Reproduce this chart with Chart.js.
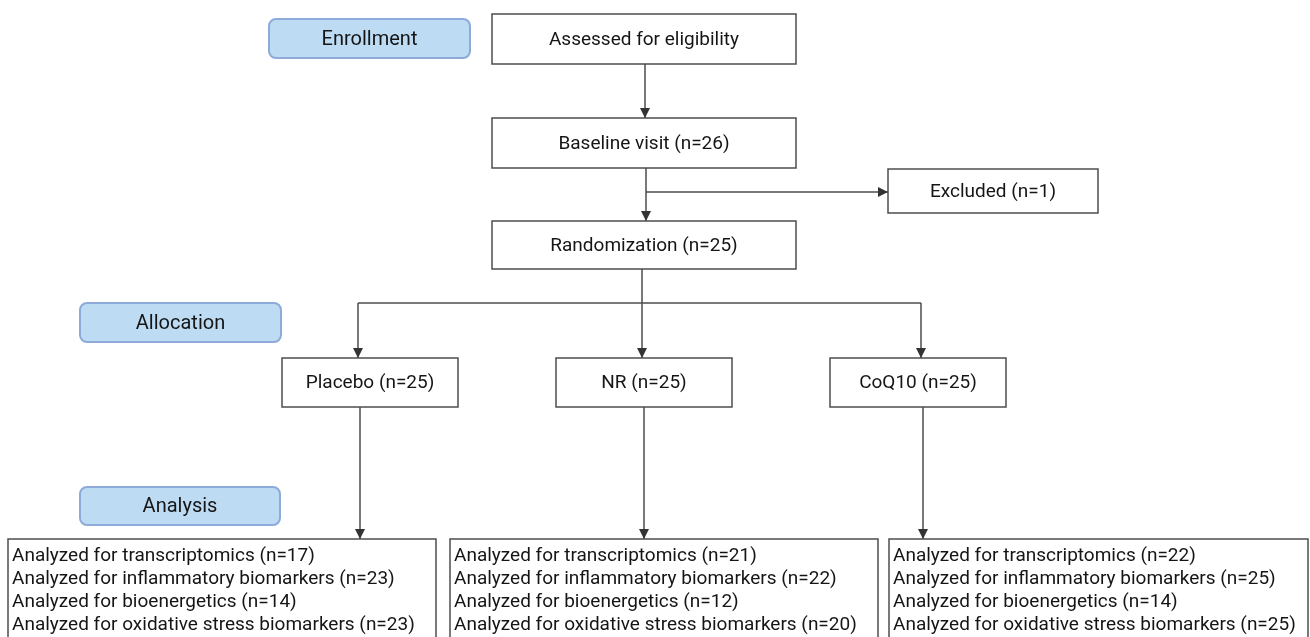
<!DOCTYPE html>
<html lang="en">
<head>
    <meta charset="UTF-8">
    <title>Study flow diagram</title>
    <script src="https://cdn.jsdelivr.net/npm/chart.js"></script>
    <style>
        html, body { margin: 0; padding: 0; background: #fff; }
        .chart-container { position: relative; width: 1310px; height: 637px; }
    </style>
</head>
<body>
    <div class="chart-container">
        <canvas id="flowChart"></canvas>
    </div>

    <script>
        // values
        const stageLabels = ['Enrollment', 'Allocation', 'Analysis'];
        const groups = ['Placebo', 'NR', 'CoQ10'];
        const allocatedN = [25, 25, 25];
        const baselineN = 26;
        const excludedN = 1;
        const randomizedN = 25;
        const analysisTypes = ['transcriptomics', 'inflammatory biomarkers', 'bioenergetics', 'oxidative stress biomarkers'];
        const transcriptomicsN = [17, 21, 22];
        const inflammatoryN = [23, 22, 25];
        const bioenergeticsN = [14, 12, 14];
        const oxidativeN = [23, 20, 25];

        // layout, in axis units (x: 0..1310, y: 0..637 top-down)
        const stageBoxes = [[269, 19, 470, 58], [80, 303, 281, 342], [80, 487, 280, 525]];
        const topBoxes = [
            { r: [492, 14, 796, 64], text: 'Assessed for eligibility' },
            { r: [492, 118, 796, 168], text: 'Baseline visit (n=' + baselineN + ')' },
            { r: [888, 169, 1098, 213], text: 'Excluded (n=' + excludedN + ')' },
            { r: [492, 221, 796, 269], text: 'Randomization (n=' + randomizedN + ')' }
        ];
        const groupBoxes = [[282, 358, 458, 407], [556, 358, 732, 407], [830, 358, 1006, 407]];
        const groupX = [358, 642, 921];
        const analysisBoxes = [[8, 539, 436, 645], [450, 539, 878, 645], [889, 539, 1308, 645]];

        const counts = [transcriptomicsN, inflammatoryN, bioenergeticsN, oxidativeN];

        // connectors: each is a polyline; arrow head at the last point when arrow is true
        const connectors = [
            { pts: [[645, 64], [645, 118]], arrow: true },
            { pts: [[646, 168], [646, 221]], arrow: true },
            { pts: [[646, 192], [888, 192]], arrow: true },
            { pts: [[642, 269], [642, 303]], arrow: false },
            { pts: [[358, 303], [921, 303]], arrow: false }
        ];
        groups.forEach((g, i) => {
            connectors.push({ pts: [[groupX[i], 303], [groupX[i], 358]], arrow: true });
            connectors.push({ pts: [[groupX[i] + 2, 407], [groupX[i] + 2, 539]], arrow: true });
        });

        const lineColor = '#4d4d4d';
        const fontFamily = 'Roboto, "Noto Sans", sans-serif';

        const flowPlugin = {
            id: 'flow',
            afterDatasetsDraw(chart) {
                const ctx = chart.ctx;
                const xs = chart.scales.x, ys = chart.scales.y;
                const px = v => xs.getPixelForValue(v);
                const py = v => ys.getPixelForValue(v);

                ctx.save();
                // arrow heads
                ctx.fillStyle = '#333';
                connectors.forEach(c => {
                    if (!c.arrow) return;
                    const a = c.pts[c.pts.length - 2], b = c.pts[c.pts.length - 1];
                    const x1 = px(a[0]), y1 = py(a[1]), x2 = px(b[0]), y2 = py(b[1]);
                    const ang = Math.atan2(y2 - y1, x2 - x1);
                    ctx.save();
                    ctx.translate(x2, y2);
                    ctx.rotate(ang);
                    ctx.beginPath();
                    ctx.moveTo(0, 0);
                    ctx.lineTo(-10, -5);
                    ctx.lineTo(-10, 5);
                    ctx.closePath();
                    ctx.fill();
                    ctx.restore();
                });

                const plainBox = (r, text) => {
                    const x = px(r[0]), y = py(r[1]), w = px(r[2]) - x, h = py(r[3]) - y;
                    ctx.fillStyle = '#fff';
                    ctx.fillRect(x, y, w, h);
                    ctx.strokeStyle = lineColor;
                    ctx.lineWidth = 1.5;
                    ctx.strokeRect(x, y, w, h);
                    if (text) {
                        ctx.fillStyle = '#151515';
                        ctx.font = '19px ' + fontFamily;
                        ctx.textAlign = 'center';
                        ctx.textBaseline = 'middle';
                        ctx.fillText(text, x + w / 2, y + h / 2 + 1);
                    }
                };

                // stage labels
                stageBoxes.forEach((r, i) => {
                    const x = px(r[0]), y = py(r[1]), w = px(r[2]) - x, h = py(r[3]) - y;
                    ctx.beginPath();
                    ctx.roundRect(x, y, w, h, 7);
                    ctx.fillStyle = '#bddcf3';
                    ctx.fill();
                    ctx.strokeStyle = '#8eaad9';
                    ctx.lineWidth = 2;
                    ctx.stroke();
                    ctx.fillStyle = '#151515';
                    ctx.font = '20px ' + fontFamily;
                    ctx.textAlign = 'center';
                    ctx.textBaseline = 'middle';
                    ctx.fillText(stageLabels[i], x + w / 2, y + h / 2 + 1);
                });

                topBoxes.forEach(b => plainBox(b.r, b.text));
                groupBoxes.forEach((r, i) => plainBox(r, groups[i] + ' (n=' + allocatedN[i] + ')'));

                analysisBoxes.forEach((r, i) => {
                    plainBox(r, null);
                    ctx.fillStyle = '#151515';
                    ctx.font = '19px ' + fontFamily;
                    ctx.textAlign = 'left';
                    ctx.textBaseline = 'middle';
                    analysisTypes.forEach((t, k) => {
                        const ty = py(r[1]) + 17 + k * 23;
                        ctx.fillText('Analyzed for ' + t + ' (n=' + counts[k][i] + ')', px(r[0]) + 4, ty);
                    });
                });
                ctx.restore();
            }
        };

        const ctx = document.getElementById('flowChart').getContext('2d');
        new Chart(ctx, {
            type: 'scatter',
            data: {
                datasets: connectors.map(c => ({
                    data: c.pts.map(p => ({ x: p[0], y: p[1] })),
                    showLine: true,
                    borderColor: lineColor,
                    borderWidth: 1.5,
                    pointRadius: 0,
                    fill: false
                }))
            },
            options: {
                responsive: true,
                maintainAspectRatio: false,
                animation: false,
                events: [],
                layout: { padding: 0 },
                plugins: { legend: { display: false }, tooltip: { enabled: false } },
                scales: {
                    x: { type: 'linear', min: 0, max: 1310, display: false },
                    y: { type: 'linear', min: 0, max: 637, reverse: true, display: false }
                }
            },
            plugins: [flowPlugin]
        });
    </script>
</body>
</html>
